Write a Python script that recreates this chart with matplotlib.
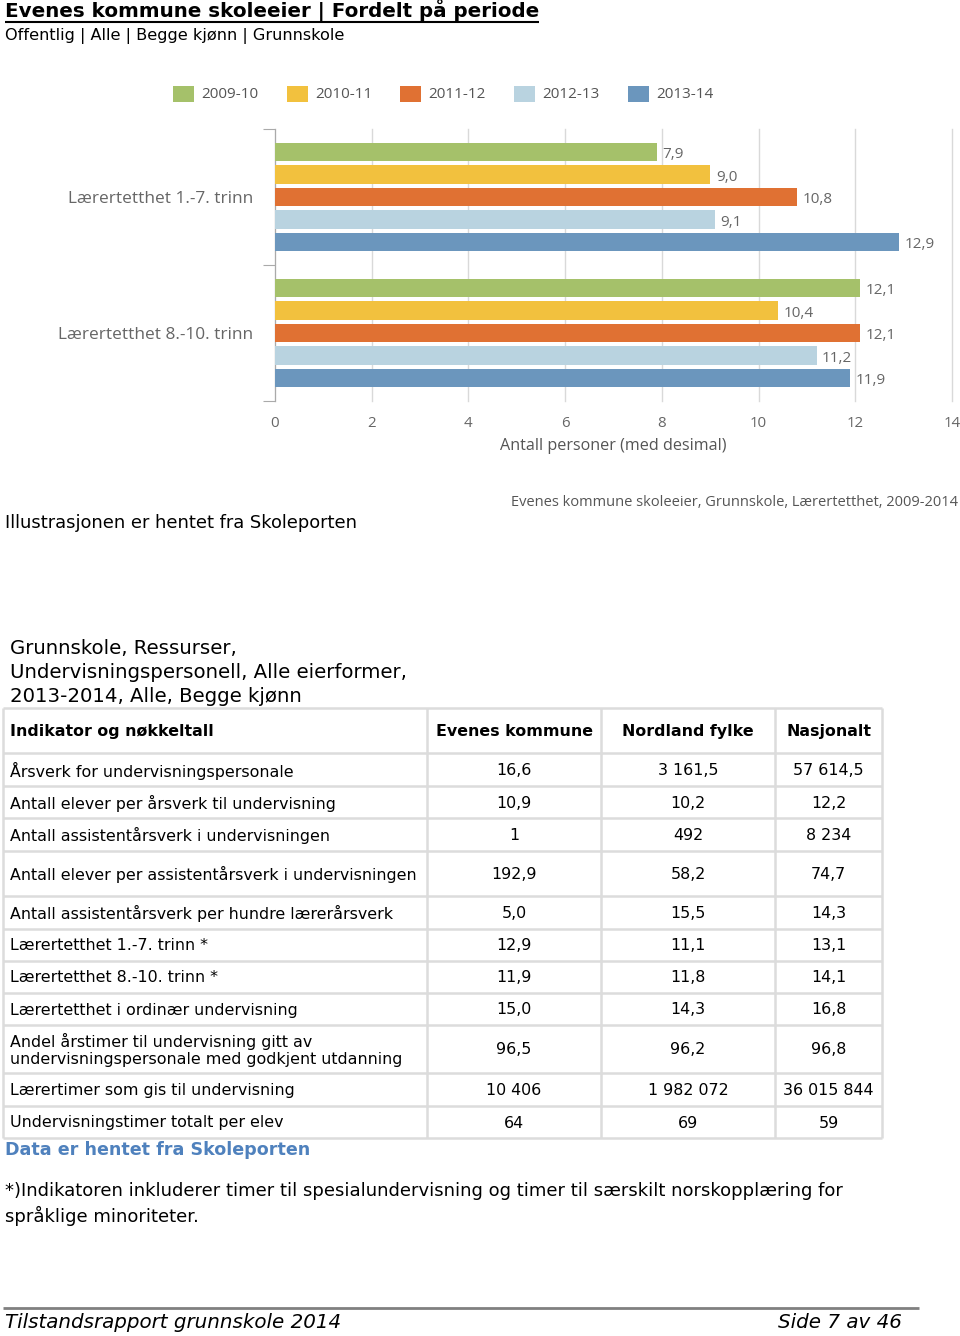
import matplotlib
matplotlib.use("Agg")
import matplotlib.pyplot as plt
import numpy as np

# ---------------- data ----------------
title = "Evenes kommune skoleeier | Fordelt på periode"
subtitle = "Offentlig | Alle | Begge kjønn | Grunnskole"
categories = ["Lærertetthet 1.-7. trinn", "Lærertetthet 8.-10. trinn"]
periods = ["2009-10", "2010-11", "2011-12", "2012-13", "2013-14"]
v_2009 = [7.9, 12.1]
v_2010 = [9.0, 10.4]
v_2011 = [10.8, 12.1]
v_2012 = [9.1, 11.2]
v_2013 = [12.9, 11.9]
series_values = [v_2009, v_2010, v_2011, v_2012, v_2013]
colors = ["#a5c16a", "#f2c13e", "#e07133", "#b9d3e0", "#6b96bd"]
x_ticks = [0, 2, 4, 6, 8, 10, 12, 14]
x_label = "Antall personer (med desimal)"
chart_source = "Evenes kommune skoleeier, Grunnskole, Lærertetthet, 2009-2014"

illus_text = "Illustrasjonen er hentet fra Skoleporten"
table_title = ["Grunnskole, Ressurser,", "Undervisningspersonell, Alle eierformer,", "2013-2014, Alle, Begge kjønn"]
table_header = ["Indikator og nøkkeltall", "Evenes kommune", "Nordland fylke", "Nasjonalt"]
indicators = [
    "Årsverk for undervisningspersonale",
    "Antall elever per årsverk til undervisning",
    "Antall assistentårsverk i undervisningen",
    "Antall elever per assistentårsverk i undervisningen",
    "Antall assistentårsverk per hundre lærerårsverk",
    "Lærertetthet 1.-7. trinn *",
    "Lærertetthet 8.-10. trinn *",
    "Lærertetthet i ordinær undervisning",
    "Andel årstimer til undervisning gitt av\nundervisningspersonale med godkjent utdanning",
    "Lærertimer som gis til undervisning",
    "Undervisningstimer totalt per elev",
]
evenes = ["16,6", "10,9", "1", "192,9", "5,0", "12,9", "11,9", "15,0", "96,5", "10 406", "64"]
nordland = ["3 161,5", "10,2", "492", "58,2", "15,5", "11,1", "11,8", "14,3", "96,2", "1 982 072", "69"]
nasjonalt = ["57 614,5", "12,2", "8 234", "74,7", "14,3", "13,1", "14,1", "16,8", "96,8", "36 015 844", "59"]
data_source = "Data er hentet fra Skoleporten"
footnote = ["*)Indikatoren inkluderer timer til spesialundervisning og timer til særskilt norskopplæring for",
            "språklige minoriteter."]
footer_left = "Tilstandsrapport grunnskole 2014"
footer_right = "Side 7 av 46"

# ---------------- figure ----------------
W, H = 960, 1336
fig = plt.figure(figsize=(W / 100, H / 100), dpi=100)
bg = fig.add_axes([0, 0, 1, 1])
bg.set_xlim(0, W)
bg.set_ylim(H, 0)
bg.axis("off")

page_font = "DejaVu Sans"
chart_font = "Open Sans"

# title
t = bg.text(5, 11, title, fontsize=14.3, fontweight="bold", family=page_font, va="center", ha="left", color="black")
fig.canvas.draw()
bb = t.get_window_extent()
bg.plot([bb.x0, bb.x1], [21.5, 21.5], color="black", lw=1.5, solid_capstyle="butt")
bg.text(5, 36, subtitle, fontsize=11.6, family=page_font, va="center", ha="left")

# legend
leg_x = [173, 287, 400, 514, 628]
for lx, p, c in zip(leg_x, periods, colors):
    bg.add_patch(plt.Rectangle((lx, 86), 21, 16, color=c, lw=0))
    bg.text(lx + 28, 94.5, p, fontsize=11, family=chart_font, va="center", ha="left", color="#555555")

# chart axes
x0_px, x1_px = 275, 952
y0_px, y1_px = 129, 401
ax = fig.add_axes([x0_px / W, 1 - y1_px / H, (x1_px - x0_px) / W, (y1_px - y0_px) / H])
ax.set_facecolor("none")
n = len(periods)
step = 0.165
bar_h = 0.135
ypos = np.arange(len(categories))
for j, (p, vals, c) in enumerate(zip(periods, series_values, colors)):
    yy = ypos + (j - (n - 1) / 2) * step
    ax.barh(yy, vals, height=bar_h, color=c, zorder=3)
    for y, v in zip(yy, vals):
        ax.annotate(f"{v:.1f}".replace(".", ","), (v, y), xytext=(4, -2), textcoords="offset points",
                    va="center", ha="left", fontsize=11, family=chart_font, color="#666666")
ax.set_xlim(0, 14)
ax.set_ylim(len(categories) - 0.5, -0.5)
ax.set_xticks(x_ticks)
ax.set_xticklabels([str(x) for x in x_ticks], fontsize=10.8, family=chart_font, color="#666666")
ax.tick_params(axis="x", length=0, pad=11)
for xv in x_ticks:
    ax.axvline(xv, color="#d9d9d9", lw=1, zorder=0, clip_on=False)
ax.set_yticks(np.arange(-0.5, len(categories) + 0.5, 1.0))
ax.set_yticklabels([])
ax.tick_params(axis="y", which="major", length=9, color="#aaaaaa", direction="out")
ax.set_yticks(ypos, minor=True)
ax.set_yticklabels(categories, minor=True, fontsize=12.4, family=chart_font, color="#666666")
ax.tick_params(axis="y", which="minor", length=0, pad=15.5)
for s in ["top", "right", "bottom"]:
    ax.spines[s].set_visible(False)
ax.spines["left"].set_color("#aaaaaa")
ax.set_xlabel(x_label, fontsize=11.6, family=chart_font, color="#555555", labelpad=5)

bg.text(958, 503, chart_source, fontsize=10.5, family=chart_font, color="#555555", va="center", ha="right")
bg.text(5, 523, illus_text, fontsize=12.9, family=page_font, va="center", ha="left")

# table title
for i, line in enumerate(table_title):
    bg.text(10, 648 + 24 * i, line, fontsize=14.2, family=page_font, va="center", ha="left")

# table
col_edges = [3, 427, 601, 775, 882]
row_edges = [708, 753, 786, 818, 851, 896, 929, 961, 993, 1025, 1073, 1106, 1138]
line_c = "#dcdcdc"
for x in col_edges:
    bg.plot([x, x], [row_edges[0], row_edges[-1]], color=line_c, lw=1.8, solid_capstyle="butt")
for y in row_edges:
    bg.plot([col_edges[0], col_edges[-1]], [y, y], color=line_c, lw=1.8, solid_capstyle="butt")

tfs = 11.4
hy = (row_edges[0] + row_edges[1]) / 2 + 1
bg.text(10, hy, table_header[0], fontsize=tfs, fontweight="bold", family=page_font, va="center", ha="left")
for k in range(1, 4):
    cx = (col_edges[k] + col_edges[k + 1]) / 2
    bg.text(cx, hy, table_header[k], fontsize=tfs, fontweight="bold", family=page_font, va="center", ha="center")
for r, (ind, a, b, c) in enumerate(zip(indicators, evenes, nordland, nasjonalt)):
    cy = (row_edges[r + 1] + row_edges[r + 2]) / 2 + 1
    bg.text(10, cy, ind, fontsize=tfs, family=page_font, va="center", ha="left", linespacing=1.22)
    for k, val in enumerate([a, b, c]):
        cx = (col_edges[k + 1] + col_edges[k + 2]) / 2
        bg.text(cx, cy, val, fontsize=tfs, family=page_font, va="center", ha="center")

bg.text(5, 1150, data_source, fontsize=12.6, fontweight="bold", family=page_font, color="#4f81bd", va="center", ha="left")
for i, line in enumerate(footnote):
    bg.text(5, 1191 + 25 * i, line, fontsize=13.0, family=page_font, va="center", ha="left")

# footer
bg.plot([3, 919], [1308, 1308], color="#808080", lw=2, solid_capstyle="butt")
bg.text(5, 1322, footer_left, fontsize=14.3, style="italic", family=page_font, va="center", ha="left")
bg.text(902, 1322, footer_right, fontsize=14.3, style="italic", family=page_font, va="center", ha="right")

fig.savefig("out.png", dpi=100)
